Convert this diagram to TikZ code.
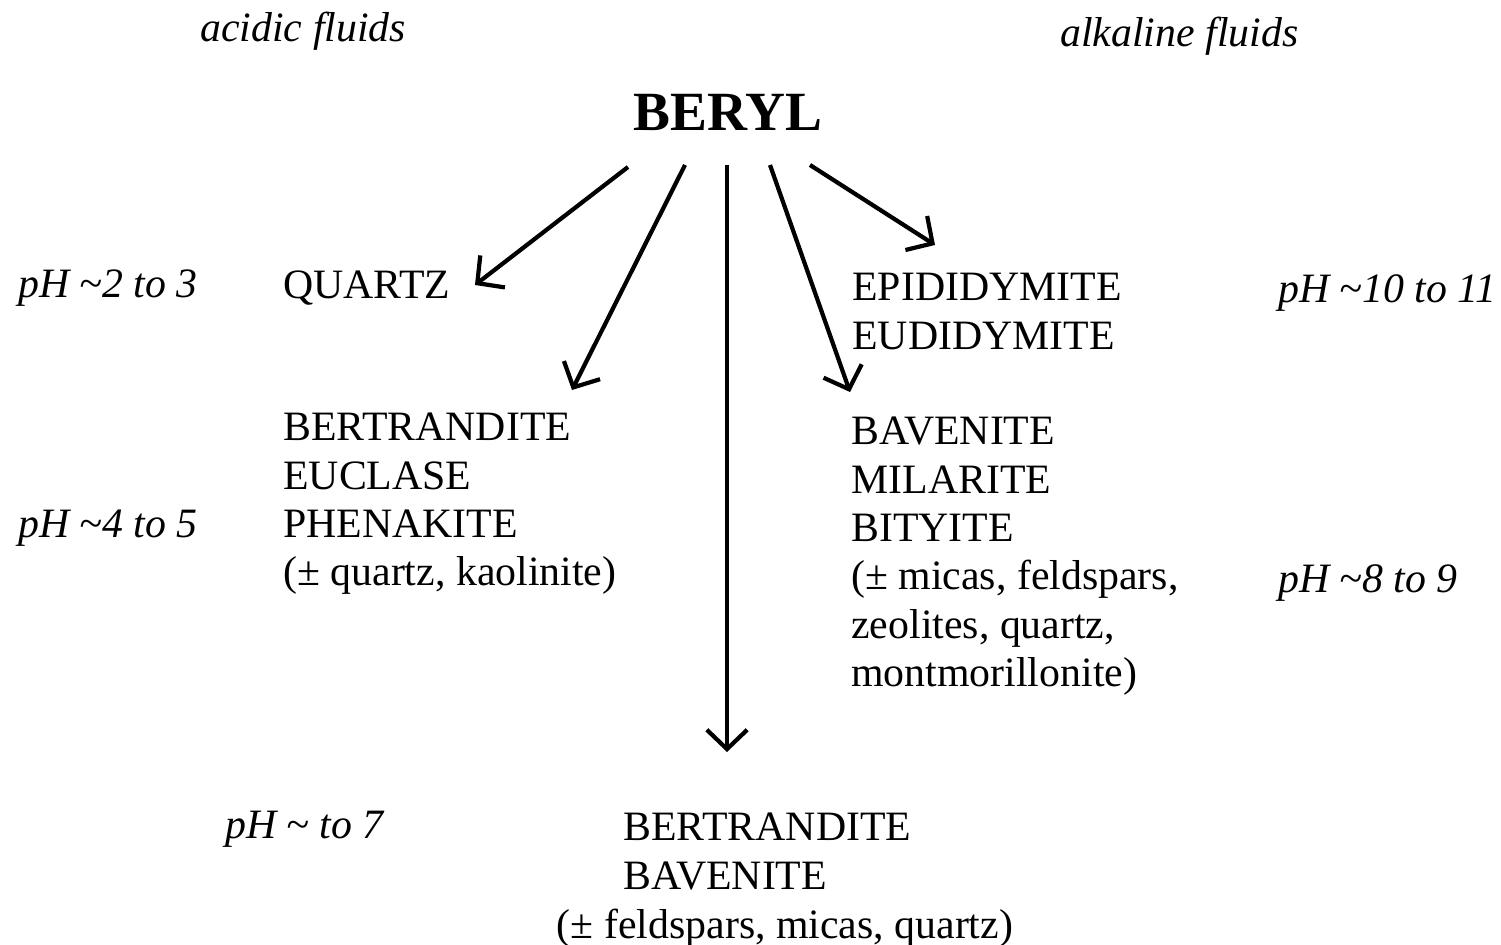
\documentclass[tikz,border=0pt]{standalone}
\usepackage{fontspec}
\setmainfont{Liberation Serif}
\usetikzlibrary{arrows.meta}
\tikzset{
  mineral/.style={anchor=north west, inner sep=0pt, align=left, font=\fontsize{23.8}{27.5}\selectfont},
  phlabel/.style={anchor=base west, inner sep=0pt, font=\fontsize{23.8}{27.5}\selectfont\itshape},
  arr/.style={line width=2.4pt, -{Straight Barb[length=11pt, width=23pt, line width=2.4pt]}}
}
\begin{document}
\begin{tikzpicture}[x=0.02cm, y=-0.02cm]
\useasboundingbox (0,0) rectangle (1501,945);

\node[phlabel] (acid) at (200,42) {acidic fluids};
\node[phlabel] (alk) at (1060,47) {alkaline fluids};
\node[anchor=base, inner sep=0pt, font=\fontsize{31.5}{35}\selectfont\bfseries] (beryl) at (728,131) {BERYL};

\node[phlabel] (ph23) at (18,298) {pH \textasciitilde2 to 3};
\node[phlabel] (ph45) at (18,538) {pH \textasciitilde4 to 5};
\node[phlabel] (ph7) at (225,838) {pH \textasciitilde\ to 7};
\node[phlabel] (ph1011) at (1278,303) {pH \textasciitilde10 to 11};
\node[phlabel] (ph89) at (1278,592) {pH \textasciitilde8 to 9};

\node[mineral] (quartz) at (283,270) {QUARTZ};
\node[mineral] (epid) at (852,273) {EPIDIDYMITE\\EUDIDYMITE};
\node[mineral] (bert) at (283,413) {BERTRANDITE\\EUCLASE\\PHENAKITE\\(\textpm{} quartz, kaolinite)};
\node[mineral] (bav) at (851,417) {BAVENITE\\MILARITE\\BITYITE\\(\textpm{} micas, feldspars,\\zeolites, quartz,\\montmorillonite)};
\node[mineral] (neutral) at (623,813) {BERTRANDITE\\BAVENITE};
\node[anchor=base, inner sep=0pt, font=\fontsize{23.8}{27.5}\selectfont] (neutralx) at (785,938) {(\textpm{} feldspars, micas, quartz)};

\coordinate (s1) at (628,167);
\coordinate (s2) at (685,165);
\coordinate (s3) at (727,165);
\coordinate (s4) at (770,165);
\coordinate (s5) at (810,165);
\coordinate (e1) at (475,285);
\coordinate (e2) at (572,390);
\coordinate (e3) at (727,752);
\coordinate (e4) at (850,392);
\coordinate (e5) at (935,245);

\draw[arr] (s1) -- (e1);
\draw[arr] (s2) -- (e2);
\draw[arr] (s3) -- (e3);
\draw[arr] (s4) -- (e4);
\draw[arr] (s5) -- (e5);
\end{tikzpicture}
\end{document}
